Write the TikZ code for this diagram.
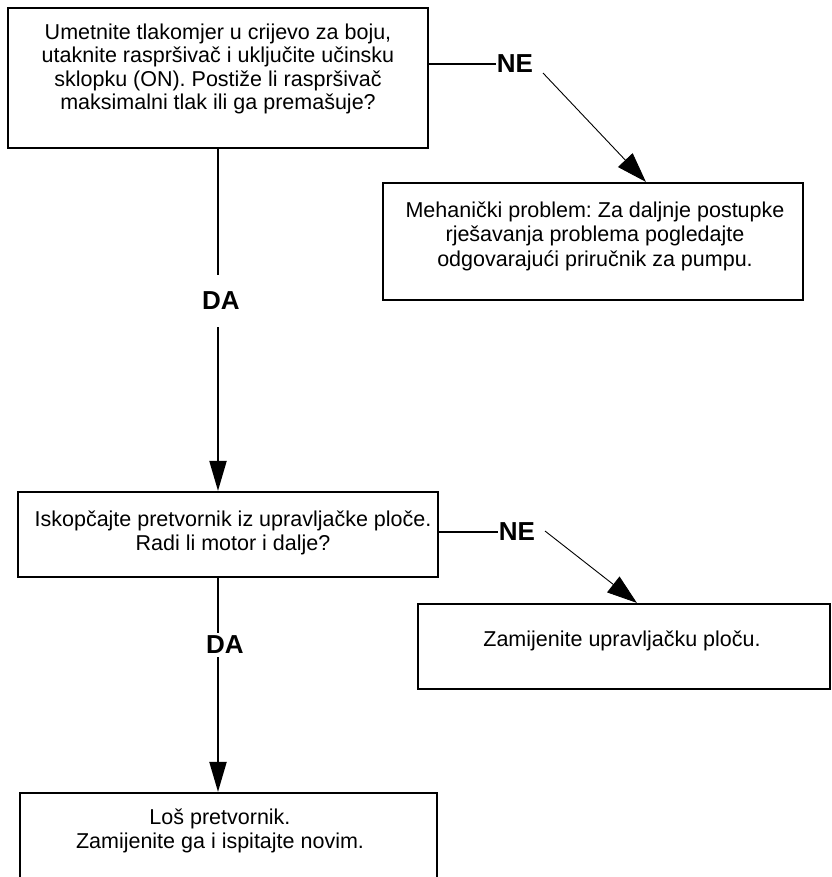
\documentclass[tikz,border=0pt]{standalone}
\usepackage{fontspec}
\setmainfont{Liberation Sans}
\frenchspacing
\usetikzlibrary{arrows.meta,calc}
\begin{document}
\begin{tikzpicture}[x=1pt,y=-1pt,
  box/.style={draw=black,line width=2.2pt,rectangle,inner sep=0pt},
  txt/.style={align=center,inner sep=0pt,font=\fontsize{21.5}{24.5}\selectfont},
  lbl/.style={inner sep=1pt,font=\fontsize{26}{28}\selectfont\bfseries},
  conn/.style={draw=black,line width=2pt},
  arr/.style={draw=black,line width=2pt,-{Triangle[length=30pt,width=17pt]}},
  darr/.style={draw=black,line width=0.9pt,-{Triangle[length=30pt,width=20pt]}}]
\useasboundingbox (0,0) rectangle (831,877);
\clip (0,0) rectangle (831,877);
% boxes
\node[box,minimum width=420pt,minimum height=140pt] (q1) at (218,78) {};
\node[box,minimum width=420pt,minimum height=117pt] (m1) at (593,241.5) {};
\node[box,minimum width=420pt,minimum height=85pt] (q2) at (228,534.5) {};
\node[box,minimum width=412pt,minimum height=85pt] (z1) at (624,646.5) {};
\node[box,minimum width=417pt,minimum height=107pt] (l1) at (228.5,846.5) {};
% texts
\node[txt,font=\fontsize{21.5}{23.4}\selectfont] (t1) at (218,69) {Umetnite tlakomjer u crijevo za boju,\\utaknite raspršivač i uključite učinsku\\sklopku (ON). Postiže li raspršivač\\maksimalni tlak ili ga premašuje?};
\node[txt] (tm) at (595,236) {Mehanički problem: Za daljnje postupke\\rješavanja problema pogledajte\\odgovarajući priručnik za pumpu.};
\node[txt] (t2) at (233,533) {Iskopčajte pretvornik iz upravljačke ploče.\\Radi li motor i dalje?};
\node[txt] (tz) at (622,641) {Zamijenite upravljačku ploču.};
\node[txt] (tl) at (220,831) {Loš pretvornik.\\Zamijenite ga i ispitajte novim.};
% labels
\node[lbl,minimum height=52pt] (da1) at (221,301) {DA};
\node[lbl,minimum height=24pt] (da2) at (225,645) {DA};
\node[lbl] (ne1) at (515,64) {NE};
\node[lbl] (ne2) at (517,532) {NE};
% coordinates
\coordinate (a1s) at (543,73);
\coordinate (a2s) at (545,531);
% connectors
\draw[conn] (q1.south) -- (q1.south |- da1.north);
\draw[arr] (q1.south |- da1.south) -- (q1.south |- q2.north);
\draw[conn] (q1.south |- q2.south) -- (q1.south |- da2.north);
\draw[arr] (q1.south |- da2.south) -- (q1.south |- l1.north);
\draw[conn] (q1.east |- ne1.west) -- (ne1.west);
\draw[conn] (q2.east |- ne2.west) -- (ne2.west);
\draw[darr] (a1s) -- ([xshift=264pt]m1.north west);
\draw[darr] (a2s) -- ([xshift=220pt]z1.north west);
\end{tikzpicture}
\end{document}
